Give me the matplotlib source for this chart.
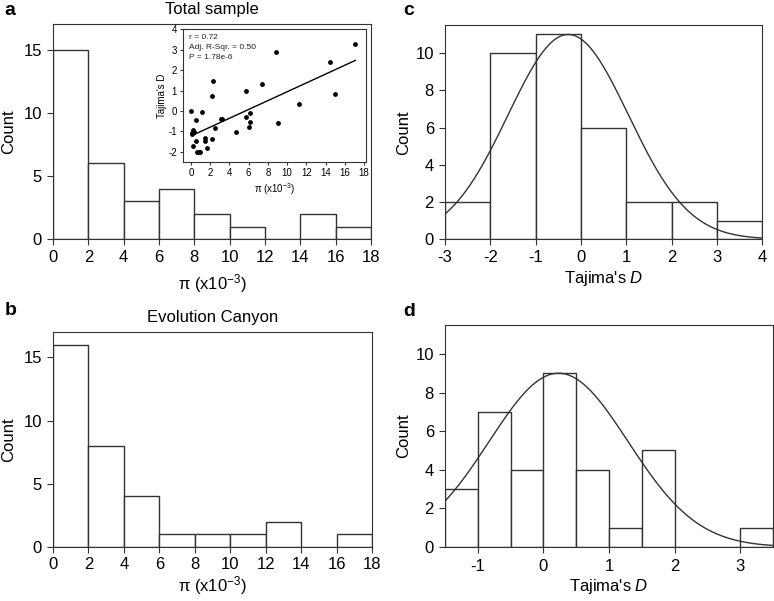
import numpy as np
import matplotlib.pyplot as plt

plt.rcParams['font.family'] = ['Liberation Sans', 'DejaVu Sans']
plt.rcParams['mathtext.fontset'] = 'custom'
plt.rcParams['mathtext.rm'] = 'Liberation Sans'
plt.rcParams['mathtext.it'] = 'Liberation Sans:italic'
plt.rcParams['mathtext.default'] = 'regular'
plt.rcParams['axes.unicode_minus'] = False

# histogram data (bin edges + counts)
pi_edges = [0, 2, 4, 6, 8, 10, 12, 14, 16, 18]
total_counts = [15, 6, 3, 4, 2, 1, 0, 2, 1]
canyon_counts = [16, 8, 4, 1, 1, 1, 2, 0, 1]

tajc_edges = [-3, -2, -1, 0, 1, 2, 3, 4]
tajc_counts = [2, 10, 11, 6, 2, 2, 1]

tajd_edges = [-1.5, -1.0, -0.5, 0.0, 0.5, 1.0, 1.5, 2.0, 2.5, 3.0, 3.5]
tajd_counts = [3, 7, 4, 9, 4, 1, 5, 0, 0, 1]

# normal curves drawn on c and d (mean, sd, peak height)
c_mean, c_sd, c_peak = -0.28, 1.33, 11.0
d_mean, d_sd, d_peak = 0.23, 1.06, 9.0

# inset scatter: pi vs Tajima's D
pi_vals = [0.0, 0.49, 0.21, 0.14, 0.3, 0.12, 0.17, 0.49, 0.66, 0.85, 0.97, 1.15,
           1.46, 1.46, 1.7, 2.15, 2.29, 2.22, 2.5, 3.16, 3.25, 4.72, 5.76, 5.73,
           6.18, 6.1, 6.08, 7.43, 8.83, 9.07, 11.24, 14.5, 15.0, 17.1]
tajima_vals = [0.0, -0.46, -0.92, -1.1, -1.05, -1.12, -1.7, -1.46, -2.0, -2.02, -2.0, -0.07,
               -1.3, -1.46, -1.83, 0.75, 1.48, -1.36, -0.85, -0.39, -0.37, -1.02, 1.0, -0.31,
               -0.1, -0.56, -0.77, 1.3, 2.89, -0.59, 0.34, 2.39, 0.84, 3.3]
stats_text = ['r = 0.72', 'Adj. R-Sqr. = 0.50', 'P = 1.78e-6']

edge = '#333333'
pi_label = 'π (x10$^{-3}$)'
taj_label = "Tajima's $\\mathit{D}$"


def style(ax, size=12):
    for s in ax.spines.values():
        s.set_linewidth(0.8)
        s.set_color(edge)
    ax.tick_params(direction='out', length=4, width=0.8, labelsize=size, pad=4, color=edge)


def hist(ax, edges, counts):
    edges = np.array(edges)
    ax.bar(edges[:-1], counts, width=np.diff(edges), align='edge',
           facecolor='white', edgecolor=edge, linewidth=1.0)


fig = plt.figure(figsize=(7.74, 6.01), dpi=100)

# a: total sample
ax_a = fig.add_axes([0.0685, 0.602, 0.4109, 0.3577])
hist(ax_a, pi_edges, total_counts)
ax_a.set_xlim(0, 18)
ax_a.set_ylim(0, 17)
ax_a.set_xticks(range(0, 19, 2))
ax_a.set_yticks([0, 5, 10, 15])
ax_a.set_xlabel(pi_label, fontsize=12, labelpad=5)
ax_a.set_ylabel('Count', fontsize=12, labelpad=5)
ax_a.set_title('Total sample', fontsize=12, pad=7)
style(ax_a)

# inset scatter
ins = fig.add_axes([0.2368, 0.7304, 0.2361, 0.2208])
ins.scatter(pi_vals, tajima_vals, s=6, color='black', zorder=3)
slope, icpt = np.polyfit(pi_vals, tajima_vals, 1)
xl = np.array([min(pi_vals) + 0.1, max(pi_vals)])
ins.plot(xl, slope * xl + icpt, color='black', lw=1.0)
ins.set_xlim(-0.8, 18.2)
ins.set_ylim(-2.5, 4)
ins.set_xticks(range(0, 19, 2))
ins.set_yticks(range(-2, 5))
ins.set_xlabel(pi_label, fontsize=7, labelpad=2)
ins.set_ylabel("Tajima's D", fontsize=7, labelpad=1)
for i, t in enumerate(stats_text):
    ins.text(0.033, 0.942 - i * 0.076, t, transform=ins.transAxes, fontsize=6,
             va='center', color='#222222')
style(ins, size=7)
ins.tick_params(length=2.5, pad=2)

# b: evolution canyon
ax_b = fig.add_axes([0.0685, 0.0899, 0.4121, 0.3577])
hist(ax_b, pi_edges, canyon_counts)
ax_b.set_xlim(0, 18)
ax_b.set_ylim(0, 17)
ax_b.set_xticks(range(0, 19, 2))
ax_b.set_yticks([0, 5, 10, 15])
ax_b.set_xlabel(pi_label, fontsize=12, labelpad=1.5)
ax_b.set_ylabel('Count', fontsize=12, labelpad=5)
ax_b.set_title('Evolution Canyon', fontsize=12, pad=7)
style(ax_b)
ax_b.tick_params(axis='x', pad=3)

# c: Tajima's D, total
ax_c = fig.add_axes([0.575, 0.602, 0.4096, 0.3561])
hist(ax_c, tajc_edges, tajc_counts)
xc = np.linspace(-3, 4, 300)
ax_c.plot(xc, c_peak * np.exp(-0.5 * ((xc - c_mean) / c_sd) ** 2), color=edge, lw=1.0)
ax_c.set_xlim(-3, 4)
ax_c.set_ylim(0, 11.5)
ax_c.set_xticks(range(-3, 5))
ax_c.set_yticks(range(0, 11, 2))
ax_c.set_xlabel(taj_label, fontsize=12, labelpad=3)
ax_c.set_ylabel('Count', fontsize=12, labelpad=3)
style(ax_c)

# d: Tajima's D, canyon
ax_d = fig.add_axes([0.575, 0.0899, 0.4238, 0.3694])
hist(ax_d, tajd_edges, tajd_counts)
xd = np.linspace(-1.5, 3.5, 300)
ax_d.plot(xd, d_peak * np.exp(-0.5 * ((xd - d_mean) / d_sd) ** 2), color=edge, lw=1.0)
ax_d.set_xlim(-1.5, 3.5)
ax_d.set_ylim(0, 11.5)
ax_d.set_xticks(range(-1, 4))
ax_d.set_yticks(range(0, 11, 2))
ax_d.set_xlabel(taj_label, fontsize=12, labelpad=2)
ax_d.set_ylabel('Count', fontsize=12, labelpad=3)
style(ax_d)
ax_d.tick_params(axis='x', pad=5)

for lab, x, y in [('a', 0.006, 0.982), ('b', 0.006, 0.484), ('c', 0.521, 0.982), ('d', 0.521, 0.482)]:
    fig.text(x, y, lab, fontsize=14, fontweight='bold', va='center')

fig.savefig('out.png', dpi=100)
